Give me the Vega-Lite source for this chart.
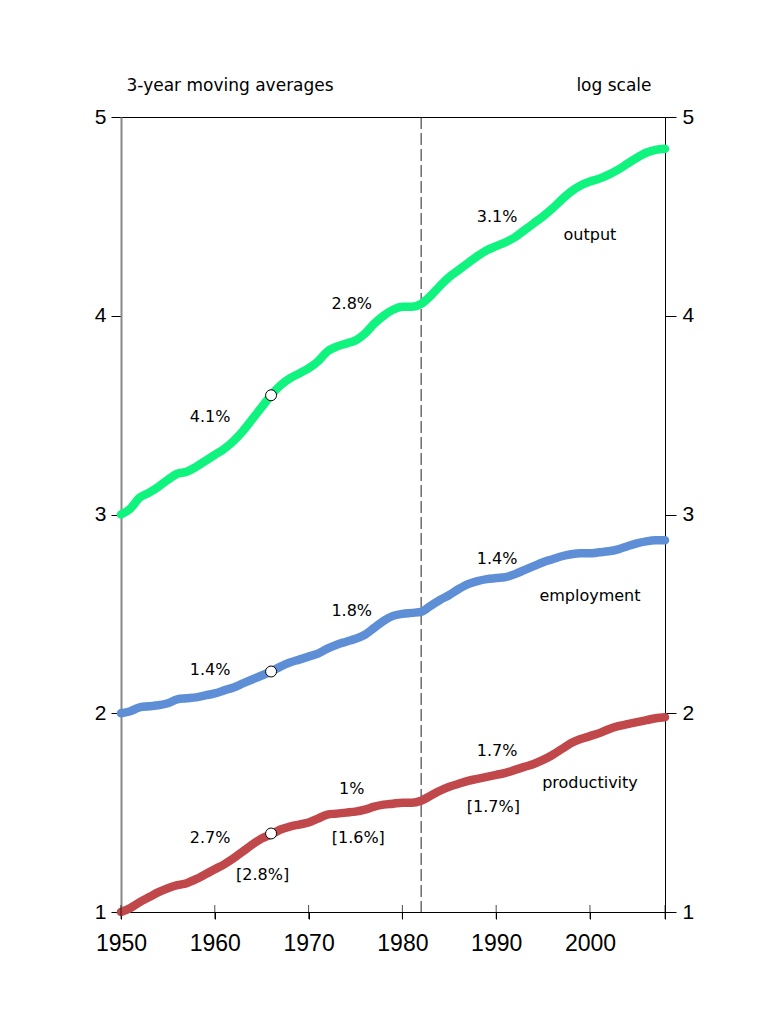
{
  "$schema": "https://vega.github.io/schema/vega-lite/v6.json",
  "width": 544,
  "height": 795,
  "autosize": {"type": "none"},
  "padding": {"left": 121, "top": 117, "right": 98, "bottom": 97},
  "background": "white",
  "config": {
    "view": {"stroke": "black", "strokeWidth": 1},
    "font": "Liberation Sans",
    "axis": {"labelFont": "Liberation Sans", "titleFont": "DejaVu Sans", "labelColor": "black", "titleColor": "black", "tickColor": "black", "grid": false}
  },
  "datasets": {
    "series": [
      {"year":1950,"series":"output","value":3.00},{"year":1951,"series":"output","value":3.03},{"year":1952,"series":"output","value":3.085},{"year":1953,"series":"output","value":3.11},{"year":1954,"series":"output","value":3.14},{"year":1955,"series":"output","value":3.175},{"year":1956,"series":"output","value":3.205},{"year":1957,"series":"output","value":3.215},{"year":1958,"series":"output","value":3.24},{"year":1959,"series":"output","value":3.27},{"year":1960,"series":"output","value":3.30},{"year":1961,"series":"output","value":3.33},{"year":1962,"series":"output","value":3.37},{"year":1963,"series":"output","value":3.42},{"year":1964,"series":"output","value":3.48},{"year":1965,"series":"output","value":3.54},{"year":1966,"series":"output","value":3.60},{"year":1967,"series":"output","value":3.65},{"year":1968,"series":"output","value":3.685},{"year":1969,"series":"output","value":3.71},{"year":1970,"series":"output","value":3.735},{"year":1971,"series":"output","value":3.77},{"year":1972,"series":"output","value":3.82},{"year":1973,"series":"output","value":3.845},{"year":1974,"series":"output","value":3.86},{"year":1975,"series":"output","value":3.875},{"year":1976,"series":"output","value":3.91},{"year":1977,"series":"output","value":3.96},{"year":1978,"series":"output","value":4.00},{"year":1979,"series":"output","value":4.03},{"year":1980,"series":"output","value":4.045},{"year":1981,"series":"output","value":4.045},{"year":1982,"series":"output","value":4.06},{"year":1983,"series":"output","value":4.10},{"year":1984,"series":"output","value":4.15},{"year":1985,"series":"output","value":4.195},{"year":1986,"series":"output","value":4.23},{"year":1987,"series":"output","value":4.265},{"year":1988,"series":"output","value":4.30},{"year":1989,"series":"output","value":4.33},{"year":1990,"series":"output","value":4.35},{"year":1991,"series":"output","value":4.37},{"year":1992,"series":"output","value":4.395},{"year":1993,"series":"output","value":4.43},{"year":1994,"series":"output","value":4.465},{"year":1995,"series":"output","value":4.50},{"year":1996,"series":"output","value":4.54},{"year":1997,"series":"output","value":4.585},{"year":1998,"series":"output","value":4.625},{"year":1999,"series":"output","value":4.655},{"year":2000,"series":"output","value":4.675},{"year":2001,"series":"output","value":4.69},{"year":2002,"series":"output","value":4.71},{"year":2003,"series":"output","value":4.735},{"year":2004,"series":"output","value":4.765},{"year":2005,"series":"output","value":4.795},{"year":2006,"series":"output","value":4.82},{"year":2007,"series":"output","value":4.835},{"year":2008,"series":"output","value":4.84},
      {"year":1950,"series":"employment","value":2.00},{"year":1951,"series":"employment","value":2.01},{"year":1952,"series":"employment","value":2.03},{"year":1953,"series":"employment","value":2.035},{"year":1954,"series":"employment","value":2.04},{"year":1955,"series":"employment","value":2.05},{"year":1956,"series":"employment","value":2.07},{"year":1957,"series":"employment","value":2.075},{"year":1958,"series":"employment","value":2.08},{"year":1959,"series":"employment","value":2.09},{"year":1960,"series":"employment","value":2.10},{"year":1961,"series":"employment","value":2.115},{"year":1962,"series":"employment","value":2.13},{"year":1963,"series":"employment","value":2.15},{"year":1964,"series":"employment","value":2.17},{"year":1965,"series":"employment","value":2.19},{"year":1966,"series":"employment","value":2.21},{"year":1967,"series":"employment","value":2.235},{"year":1968,"series":"employment","value":2.255},{"year":1969,"series":"employment","value":2.27},{"year":1970,"series":"employment","value":2.285},{"year":1971,"series":"employment","value":2.30},{"year":1972,"series":"employment","value":2.325},{"year":1973,"series":"employment","value":2.345},{"year":1974,"series":"employment","value":2.36},{"year":1975,"series":"employment","value":2.375},{"year":1976,"series":"employment","value":2.395},{"year":1977,"series":"employment","value":2.43},{"year":1978,"series":"employment","value":2.465},{"year":1979,"series":"employment","value":2.49},{"year":1980,"series":"employment","value":2.50},{"year":1981,"series":"employment","value":2.505},{"year":1982,"series":"employment","value":2.51},{"year":1983,"series":"employment","value":2.54},{"year":1984,"series":"employment","value":2.57},{"year":1985,"series":"employment","value":2.595},{"year":1986,"series":"employment","value":2.625},{"year":1987,"series":"employment","value":2.65},{"year":1988,"series":"employment","value":2.665},{"year":1989,"series":"employment","value":2.675},{"year":1990,"series":"employment","value":2.68},{"year":1991,"series":"employment","value":2.685},{"year":1992,"series":"employment","value":2.70},{"year":1993,"series":"employment","value":2.72},{"year":1994,"series":"employment","value":2.74},{"year":1995,"series":"employment","value":2.76},{"year":1996,"series":"employment","value":2.775},{"year":1997,"series":"employment","value":2.79},{"year":1998,"series":"employment","value":2.80},{"year":1999,"series":"employment","value":2.805},{"year":2000,"series":"employment","value":2.805},{"year":2001,"series":"employment","value":2.81},{"year":2002,"series":"employment","value":2.815},{"year":2003,"series":"employment","value":2.825},{"year":2004,"series":"employment","value":2.84},{"year":2005,"series":"employment","value":2.855},{"year":2006,"series":"employment","value":2.865},{"year":2007,"series":"employment","value":2.87},{"year":2008,"series":"employment","value":2.87},
      {"year":1950,"series":"productivity","value":1.00},{"year":1951,"series":"productivity","value":1.02},{"year":1952,"series":"productivity","value":1.05},{"year":1953,"series":"productivity","value":1.075},{"year":1954,"series":"productivity","value":1.10},{"year":1955,"series":"productivity","value":1.12},{"year":1956,"series":"productivity","value":1.135},{"year":1957,"series":"productivity","value":1.145},{"year":1958,"series":"productivity","value":1.165},{"year":1959,"series":"productivity","value":1.19},{"year":1960,"series":"productivity","value":1.215},{"year":1961,"series":"productivity","value":1.24},{"year":1962,"series":"productivity","value":1.27},{"year":1963,"series":"productivity","value":1.305},{"year":1964,"series":"productivity","value":1.34},{"year":1965,"series":"productivity","value":1.37},{"year":1966,"series":"productivity","value":1.39},{"year":1967,"series":"productivity","value":1.415},{"year":1968,"series":"productivity","value":1.43},{"year":1969,"series":"productivity","value":1.44},{"year":1970,"series":"productivity","value":1.45},{"year":1971,"series":"productivity","value":1.47},{"year":1972,"series":"productivity","value":1.49},{"year":1973,"series":"productivity","value":1.495},{"year":1974,"series":"productivity","value":1.50},{"year":1975,"series":"productivity","value":1.505},{"year":1976,"series":"productivity","value":1.515},{"year":1977,"series":"productivity","value":1.53},{"year":1978,"series":"productivity","value":1.54},{"year":1979,"series":"productivity","value":1.545},{"year":1980,"series":"productivity","value":1.55},{"year":1981,"series":"productivity","value":1.55},{"year":1982,"series":"productivity","value":1.56},{"year":1983,"series":"productivity","value":1.585},{"year":1984,"series":"productivity","value":1.61},{"year":1985,"series":"productivity","value":1.63},{"year":1986,"series":"productivity","value":1.645},{"year":1987,"series":"productivity","value":1.66},{"year":1988,"series":"productivity","value":1.67},{"year":1989,"series":"productivity","value":1.68},{"year":1990,"series":"productivity","value":1.69},{"year":1991,"series":"productivity","value":1.70},{"year":1992,"series":"productivity","value":1.715},{"year":1993,"series":"productivity","value":1.73},{"year":1994,"series":"productivity","value":1.745},{"year":1995,"series":"productivity","value":1.765},{"year":1996,"series":"productivity","value":1.79},{"year":1997,"series":"productivity","value":1.82},{"year":1998,"series":"productivity","value":1.85},{"year":1999,"series":"productivity","value":1.87},{"year":2000,"series":"productivity","value":1.885},{"year":2001,"series":"productivity","value":1.90},{"year":2002,"series":"productivity","value":1.92},{"year":2003,"series":"productivity","value":1.935},{"year":2004,"series":"productivity","value":1.945},{"year":2005,"series":"productivity","value":1.955},{"year":2006,"series":"productivity","value":1.965},{"year":2007,"series":"productivity","value":1.975},{"year":2008,"series":"productivity","value":1.98}
    ],
    "labels": [
      {"year":1959.5,"value":3.49,"label":"4.1%"},
      {"year":1974.6,"value":4.06,"label":"2.8%"},
      {"year":1990.1,"value":4.498,"label":"3.1%"},
      {"year":2000,"value":4.408,"label":"output"},
      {"year":1959.5,"value":2.219,"label":"1.4%"},
      {"year":1974.6,"value":2.516,"label":"1.8%"},
      {"year":1990.1,"value":2.778,"label":"1.4%"},
      {"year":2000,"value":2.591,"label":"employment"},
      {"year":1959.5,"value":1.374,"label":"2.7%"},
      {"year":1965.1,"value":1.188,"label":"[2.8%]"},
      {"year":1974.6,"value":1.62,"label":"1%"},
      {"year":1975.3,"value":1.374,"label":"[1.6%]"},
      {"year":1990.1,"value":1.812,"label":"1.7%"},
      {"year":2000,"value":1.651,"label":"productivity"},
      {"year":1989.7,"value":1.53,"label":"[1.7%]"}
    ],
    "points": [
      {"year":1966,"value":3.6},
      {"year":1966,"value":2.21},
      {"year":1966,"value":1.395}
    ],
    "xticks": [
      {"year":1950,"value":1},{"year":1960,"value":1},{"year":1970,"value":1},{"year":1980,"value":1},{"year":1990,"value":1},{"year":2000,"value":1},{"year":2008,"value":1}
    ],
    "split": [{"year":1982}]
  },
  "resolve": {"axis": {"y": "independent"}},
  "layer": [
    {
      "data": {"name": "split"},
      "mark": {"type": "rule", "color": "#222222", "strokeWidth": 1, "strokeDash": [12, 4]},
      "encoding": {
        "x": {"field": "year", "type": "quantitative", "scale": {"domain": [1950, 2008], "nice": false, "zero": false},
          "axis": {"values": [1950,1960,1970,1980,1990,2000,2008], "labelExpr": "datum.value == 2008 ? '' : datum.label", "format": "d", "tickSize": 7, "domainColor": "black", "labelFontSize": 23, "labelPadding": 13, "labelFlush": false, "labelOverlap": false, "title": null}}
      }
    },
    {
      "data": {"name": "series"},
      "mark": {"type": "line", "strokeWidth": 8.5, "strokeCap": "round", "strokeJoin": "round", "interpolate": "monotone"},
      "encoding": {
        "x": {"field": "year", "type": "quantitative"},
        "y": {"field": "value", "type": "quantitative", "scale": {"domain": [1, 5], "nice": false, "zero": false},
          "axis": {"orient": "left", "values": [1,1.5,2,2.5,3,3.5,4,4.5,5], "format": "d", "labelExpr": "datum.value % 1 == 0 ? datum.label : ''",
            "tickSize": {"condition": {"test": "datum.value % 1 == 0", "value": 10}, "value": 6},
            "domainColor": "#888888", "domainWidth": 2, "labelFontSize": 21, "labelPadding": 5, "labelOverlap": false, "labelFlush": false,
            "title": "3-year moving averages", "titleAngle": 0, "titleAlign": "left", "titleBaseline": "middle", "titleX": 5, "titleY": -32, "titleFontSize": 17, "titleFontWeight": "normal"}},
        "color": {"field": "series", "type": "nominal", "scale": {"domain": ["output", "employment", "productivity"], "range": ["#10F47F", "#5E8FD6", "#C0474A"]}, "legend": null},
        "detail": {"field": "series"}
      }
    },
    {
      "data": {"name": "xticks"},
      "mark": {"type": "tick", "orient": "vertical", "size": 14, "thickness": 1, "color": "black"},
      "encoding": {
        "x": {"field": "year", "type": "quantitative"},
        "y": {"field": "value", "type": "quantitative", "axis": null}
      }
    },
    {
      "data": {"name": "points"},
      "mark": {"type": "point", "filled": true, "fill": "white", "stroke": "black", "strokeWidth": 1, "size": 120, "opacity": 1},
      "encoding": {
        "x": {"field": "year", "type": "quantitative"},
        "y": {"field": "value", "type": "quantitative", "axis": null}
      }
    },
    {
      "data": {"name": "labels"},
      "mark": {"type": "text", "fontSize": 16, "font": "DejaVu Sans", "color": "black", "align": "center", "baseline": "middle"},
      "encoding": {
        "x": {"field": "year", "type": "quantitative"},
        "y": {"field": "value", "type": "quantitative",
          "axis": {"orient": "right", "values": [1,1.5,2,2.5,3,3.5,4,4.5,5], "format": "d", "labelExpr": "datum.value % 1 == 0 ? datum.label : ''",
            "tickSize": {"condition": {"test": "datum.value % 1 == 0", "value": 11}, "value": 6},
            "domainColor": "black", "labelFontSize": 21, "labelPadding": 6, "labelOverlap": false, "labelFlush": false,
            "title": "log scale", "titleAngle": 0, "titleAlign": "right", "titleBaseline": "middle", "titleX": -14, "titleY": -32, "titleFontSize": 17, "titleFontWeight": "normal"}},
        "text": {"field": "label"}
      }
    }
  ]
}
